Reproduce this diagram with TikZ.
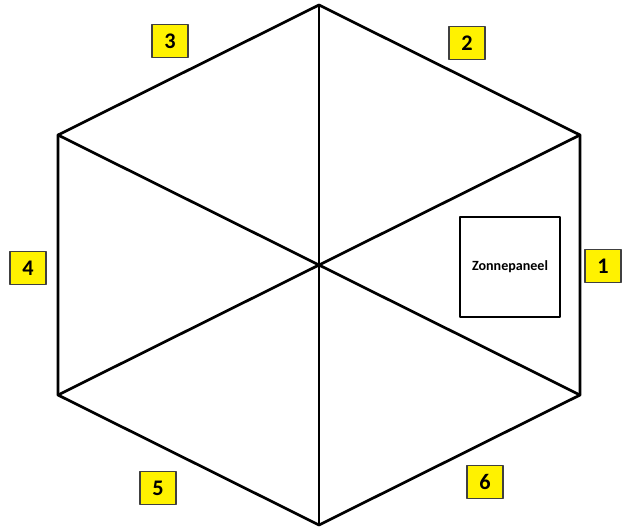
\documentclass[tikz,border=0pt]{standalone}
\usepackage{fontspec}
\setmainfont{Carlito}
\usetikzlibrary{arrows.meta}
\definecolor{labelyellow}{HTML}{FFF200}
\definecolor{labeledge}{HTML}{404040}
\tikzset{
  every picture/.style={
    line join=round,
    line cap=round,
  },
  hexline/.style={line width=2.3pt, black},
  numbox/.style={draw=labeledge, line width=1pt, fill=labelyellow,
    minimum width=1.08cm, minimum height=1.0cm, inner sep=0pt,
    font=\fontsize{19}{19}\selectfont\bfseries},
  panel/.style={draw, line width=1.8pt, minimum size=3cm, inner sep=0pt,
    font=\fontsize{12}{12}\selectfont\bfseries},
}
\begin{document}
\begin{tikzpicture}[x=0.03cm, y=-0.03cm]
\useasboundingbox (0,0) rectangle (622,528);
% corners of the hexagon
\coordinate (top) at (319,5);
\coordinate (ur) at (580,135);
\coordinate (lr) at (580,395);
\coordinate (bot) at (319,525);
\coordinate (ll) at (58,395);
\coordinate (ul) at (58,135);
\coordinate (mid) at (319,265);
\draw[hexline] (top) -- (ur) -- (lr) -- (bot) -- (ll) -- (ul) -- cycle;
\draw[hexline] (top) -- (bot);
\draw[hexline] (ul) -- (lr);
\draw[hexline] (ll) -- (ur);
% solar panel
\node[panel, fill=white] (paneel) at (510,267) {Zonnepaneel};
% side numbers
\node[numbox] (n1) at (603,266) {1};
\node[numbox] (n2) at (467,43) {2};
\node[numbox] (n3) at (170,41) {3};
\node[numbox] (n4) at (28,268) {4};
\node[numbox] (n5) at (158,488) {5};
\node[numbox] (n6) at (485,482) {6};
\end{tikzpicture}
\end{document}
